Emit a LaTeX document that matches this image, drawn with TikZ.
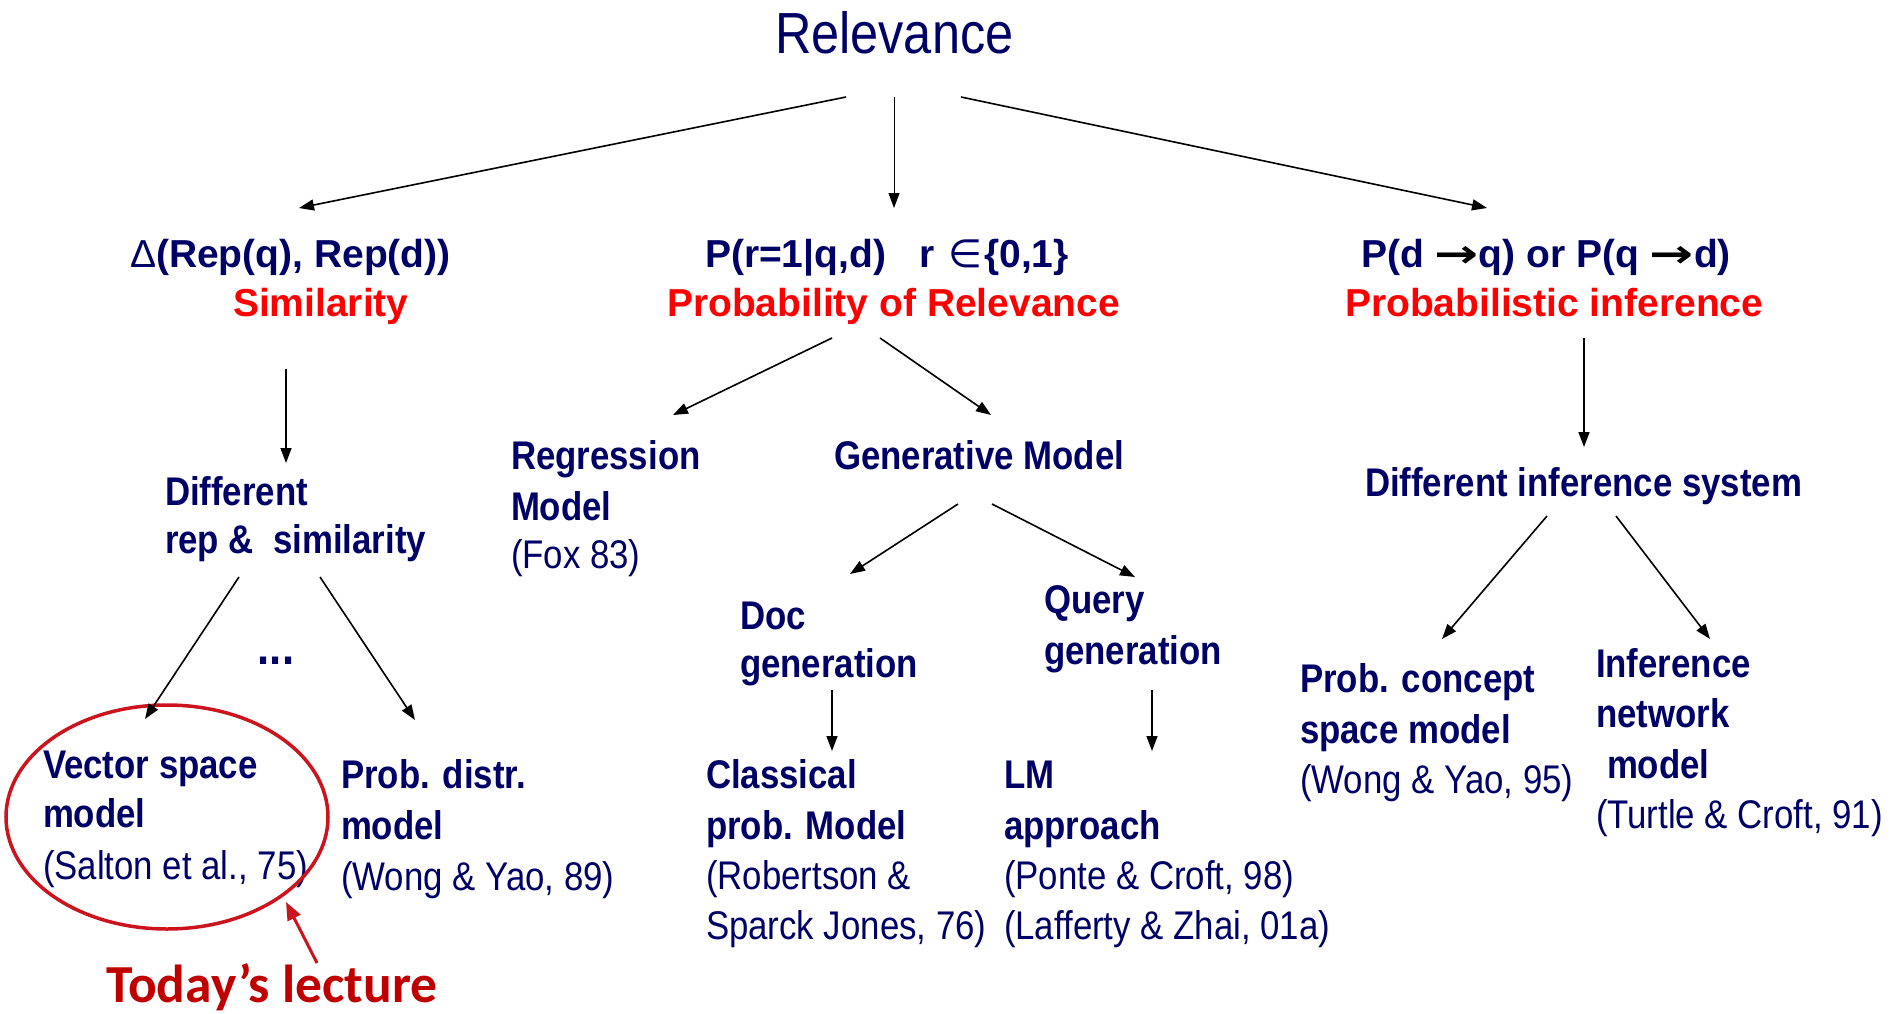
\documentclass[tikz,border=0pt]{standalone}
\usepackage{fontspec}
\usepackage{graphicx}
\setmainfont{Liberation Sans}[FakeStretch=0.87]
\newfontfamily\arialf{Liberation Sans}
\newfontfamily\dejavu{DejaVu Sans}
\newfontfamily\calib{Carlito}
\usetikzlibrary{arrows.meta,shapes.geometric}
\definecolor{navy}{RGB}{0,0,102}
\definecolor{hred}{RGB}{255,0,0}
\definecolor{dred}{RGB}{192,0,0}
\definecolor{ered}{RGB}{204,20,30}
\newcommand{\longarr}{{\color{black}\scalebox{1.35}[1.0]{\dejavu\bfseries →}}}
\tikzset{
  txt/.style={anchor=base west,inner sep=0pt,outer sep=0pt,text=navy},
  head/.style={txt,font=\arialf\fontsize{39}{46}\selectfont\bfseries},
  headred/.style={head,text=hred},
  body/.style={txt,font=\fontsize{40}{48}\selectfont\bfseries},
  cite/.style={txt,font=\fontsize{40}{48}\selectfont},
  arr/.style={draw=black,line width=1.6pt,-{Triangle[length=15pt,width=11pt]}},
  thinarr/.style={arr,line width=1pt},
  redarr/.style={draw=ered,line width=3pt,-{Triangle[length=18pt,width=14pt]}},
}
\begin{document}
\begin{tikzpicture}[x=1pt,y=-1pt]
\useasboundingbox (0,0) rectangle (1895,1014);
% title
\node[txt,font=\fontsize{58}{66}\selectfont] (rel) at (775,54) {Relevance};
% heading row
\node[head] (sim1) at (130,267) {{\mdseries Δ}(Rep(q), Rep(d))};
\node[headred] (sim2) at (233,316) {Similarity};
\node[head] (pr1) at (705,267) {P(r=1|q,d)\hspace*{33pt}r\hspace*{14pt}{\mdseries\dejavu ∈}\hspace*{2pt}\{0,1\}};
\node[headred] (pr2) at (667,316) {Probability of Relevance};
\node[head] (pi1) at (1361,267) {P(d \longarr q) or P(q \longarr d)};
\node[headred] (pi2) at (1345,316) {Probabilistic inference};
% left column
\node[body] (drs1) at (165,505) {Different};
\node[body] (drs2) at (165,553) {rep \&\ \ similarity};
\node[body,anchor=base,font=\fontsize{50}{56}\selectfont\bfseries] (dots) at (276,664) {...};
\node[body] (vsm1) at (43,778) {Vector space};
\node[body] (vsm2) at (43,827) {model};
\node[cite] (vsm3) at (43,879) {(Salton et al., 75)};
\node[body] (pdm1) at (341,788) {Prob. distr.};
\node[body] (pdm2) at (341,839) {model};
\node[cite] (pdm3) at (341,890) {(Wong \& Yao, 89)};
% middle column
\node[body] (reg1) at (511,469) {Regression};
\node[body] (reg2) at (511,520) {Model};
\node[cite] (reg3) at (511,568) {(Fox 83)};
\node[body] (gen) at (834,469) {Generative Model};
\node[body] (doc1) at (740,629) {Doc};
\node[body] (doc2) at (740,677) {generation};
\node[body] (qg1) at (1044,613) {Query};
\node[body] (qg2) at (1044,664) {generation};
\node[body] (cls1) at (706,788) {Classical};
\node[body] (cls2) at (706,839) {prob. Model};
\node[cite] (cls3) at (706,889) {(Robertson \&};
\node[cite] (cls4) at (706,939) {Sparck Jones, 76)};
\node[body] (lm1) at (1004,788) {LM};
\node[body] (lm2) at (1004,839) {approach};
\node[cite] (lm3) at (1004,889) {(Ponte \& Croft, 98)};
\node[cite] (lm4) at (1004,939) {(Lafferty \& Zhai, 01a)};
% right column
\node[body] (dis) at (1365,496) {Different inference system};
\node[body] (pcs1) at (1300,692) {Prob. concept};
\node[body] (pcs2) at (1300,743) {space model};
\node[cite] (pcs3) at (1300,793) {(Wong \& Yao, 95)};
\node[body] (inf1) at (1596,677) {Inference};
\node[body] (inf2) at (1596,727) {network};
\node[body] (inf3) at (1607,778) {model};
\node[cite] (inf4) at (1596,828) {(Turtle \& Croft, 91)};
% highlight
\node[draw=ered,line width=3.5pt,ellipse,minimum width=322pt,minimum height=224pt,inner sep=0pt] (hl) at (167,817) {};
\node[anchor=base west,inner sep=0pt,text=dred,font=\calib\fontsize{53.5}{60}\selectfont\bfseries] (today) at (106,1002) {Today’s lecture};
% connector end points
\coordinate (r-l) at (846,97);   \coordinate (sim-t) at (299,208);
\coordinate (r-m) at (894,97);   \coordinate (pr-t) at (894,208);
\coordinate (r-r) at (961,97);   \coordinate (pi-t) at (1487,208);
\coordinate (sim-b) at (286,369); \coordinate (drs-t) at (286,463);
\coordinate (drs-bl) at (239,577); \coordinate (vsm-t) at (145,719);
\coordinate (drs-br) at (320,577); \coordinate (pdm-t) at (415,720);
\coordinate (pr-bl) at (832,338); \coordinate (reg-t) at (673,415);
\coordinate (pr-br) at (880,338); \coordinate (gen-t) at (991,415);
\coordinate (gen-bl) at (958,504); \coordinate (doc-t) at (850,574);
\coordinate (gen-br) at (992,504); \coordinate (qg-t) at (1135,577);
\coordinate (doc-b) at (832,690); \coordinate (cls-t) at (832,751);
\coordinate (qg-b) at (1152,690); \coordinate (lm-t) at (1152,751);
\coordinate (pi-b) at (1584,338); \coordinate (dis-t) at (1584,447);
\coordinate (dis-bl) at (1547,516); \coordinate (pcs-t) at (1442,639);
\coordinate (dis-br) at (1616,516); \coordinate (inf-t) at (1710,639);
\coordinate (today-t) at (317,963); \coordinate (hl-tip) at (286,902);
% connectors
\draw[arr] (r-l) -- (sim-t);
\draw[thinarr] (r-m) -- (pr-t);
\draw[arr] (r-r) -- (pi-t);
\draw[arr] (sim-b) -- (drs-t);
\draw[arr] (drs-bl) -- (vsm-t);
\draw[arr] (drs-br) -- (pdm-t);
\draw[arr] (pr-bl) -- (reg-t);
\draw[arr] (pr-br) -- (gen-t);
\draw[arr] (gen-bl) -- (doc-t);
\draw[arr] (gen-br) -- (qg-t);
\draw[arr] (doc-b) -- (cls-t);
\draw[arr] (qg-b) -- (lm-t);
\draw[arr] (pi-b) -- (dis-t);
\draw[arr] (dis-bl) -- (pcs-t);
\draw[arr] (dis-br) -- (inf-t);
\draw[redarr] (today-t) -- (hl-tip);
\end{tikzpicture}
\end{document}
